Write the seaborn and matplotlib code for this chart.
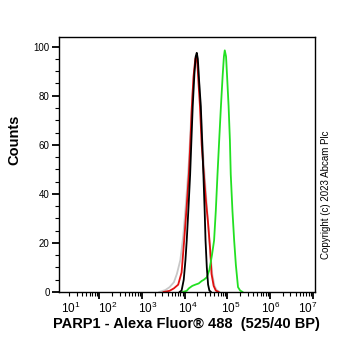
import numpy as np
import pandas as pd
import matplotlib
matplotlib.use("Agg")
import matplotlib.pyplot as plt
import seaborn as sns
from matplotlib.ticker import LogLocator, MultipleLocator, FixedLocator, NullFormatter

# histogram traces: log10(intensity), counts (% of max)
gray_log = [3.40, 3.55, 3.65, 3.75, 3.82, 3.90, 3.97, 4.04, 4.10, 4.15, 4.20, 4.25, 4.28,
            4.32, 4.36, 4.40, 4.45, 4.50, 4.55, 4.60, 4.65, 4.70, 4.75, 4.82]
gray_cnt = [0, 0.8, 2, 4, 7.4, 13, 23, 38, 53, 70, 85, 94, 95,
            90, 80, 66, 52, 40, 28, 16, 7, 2.5, 0.8, 0]

red_log = [3.50, 3.65, 3.75, 3.85, 3.93, 3.99, 4.05, 4.10, 4.14, 4.17, 4.21, 4.25, 4.27,
           4.30, 4.33, 4.36, 4.40, 4.45, 4.50, 4.55, 4.60, 4.63, 4.68, 4.73, 4.80]
red_cnt = [0, 0.5, 1.5, 3, 8, 21, 35, 48, 63, 75.6, 88, 95, 96,
           93, 84, 75.6, 60, 48, 37, 28, 17, 7.4, 2.5, 0.6, 0]

green_log = [3.95, 4.05, 4.10, 4.18, 4.25, 4.33, 4.40, 4.45, 4.52, 4.58, 4.64, 4.69, 4.73,
             4.77, 4.81, 4.85, 4.89, 4.92, 4.94, 4.97, 5.00, 5.03, 5.06, 5.08, 5.12,
             5.16, 5.20, 5.25, 5.30, 5.36]
green_cnt = [0, 0.5, 1.5, 2.5, 3, 3.5, 4.5, 5, 6, 9, 15, 21, 33,
             48, 62, 75.6, 88, 96, 98.5, 96, 86, 75.6, 62, 48, 33,
             21, 11, 2, 0.6, 0]

black_log = [3.88, 3.93, 3.98, 4.02, 4.05, 4.09, 4.13, 4.16, 4.19, 4.23, 4.26, 4.285,
             4.31, 4.34, 4.38, 4.41, 4.44, 4.47, 4.49, 4.52, 4.55, 4.58, 4.62]
black_cnt = [0, 0.6, 5, 13, 21, 34, 48, 62, 75.6, 89, 96, 97.5,
             95, 86, 75.6, 62, 48, 33, 21, 10, 3, 0.6, 0]

traces = [
    ("gray", gray_log, gray_cnt, "#c8c8c8"),
    ("red", red_log, red_cnt, "#e01010"),
    ("green", green_log, green_cnt, "#22e022"),
    ("black", black_log, black_cnt, "#000000"),
]

decades = [1, 2, 3, 4, 5, 6, 7]
# the decade labels in the picture sit a little off their ticks (pixel x of each label)
decade_label_px = [71, 107.5, 148, 188, 231, 270.5, 308]

sns.set_style("ticks")
plt.rcParams["font.family"] = ["Liberation Sans", "DejaVu Sans"]
plt.rcParams["mathtext.fontset"] = "custom"
plt.rcParams["mathtext.rm"] = "Liberation Sans"
plt.rcParams["mathtext.it"] = "Liberation Sans"
plt.rcParams["text.color"] = "black"
plt.rcParams["xtick.color"] = "black"
plt.rcParams["ytick.color"] = "black"
plt.rcParams["xtick.labelcolor"] = "black"
plt.rcParams["ytick.labelcolor"] = "black"

fig = plt.figure(figsize=(3.62, 3.51), dpi=100)
ax = fig.add_axes([0.164, 0.168, 0.706, 0.727])

for name, xs, ys, col in traces:
    df = pd.DataFrame({"x": 10 ** np.array(xs), "y": ys})
    sns.lineplot(data=df, x="x", y="y", color=col, linewidth=1.3, ax=ax, sort=False)

ax.set_xscale("log")
ax.set_xlim(10 ** 1.07, 10 ** 7.05)
ax.set_ylim(0, 104)

ax.xaxis.set_major_locator(FixedLocator([10.0 ** k for k in decades]))
ax.xaxis.set_minor_locator(LogLocator(base=10, subs=np.arange(2, 10), numticks=20))
ax.xaxis.set_major_formatter(NullFormatter())
ax.xaxis.set_minor_formatter(NullFormatter())
ax.yaxis.set_major_locator(MultipleLocator(20))
ax.yaxis.set_minor_locator(MultipleLocator(5))

ax.tick_params(axis="both", which="major", direction="out", length=5, width=1.3,
               labelsize=7, color="black", labelcolor="black", pad=2)
ax.tick_params(axis="both", which="minor", direction="out", length=3, width=0.8, color="black")

for k, px in zip(decades, decade_label_px):
    fig.text(px / 362, 1 - 308 / 351, "$10^{%d}$" % k, fontsize=8.5, ha="center", va="center",
             color="black")

for s in ax.spines.values():
    s.set_visible(True)
    s.set_linewidth(1.0)
    s.set_color("black")

ax.set_xlabel("")
ax.set_ylabel("")
fig.text(14 / 362, 1 - 140 / 351, "Counts", rotation=90, fontsize=10.5, fontweight="bold",
         ha="center", va="center", color="black")
fig.text(186 / 362, 1 - 324 / 351, "PARP1 - Alexa Fluor\u00ae 488  (525/40 BP)",
         fontsize=10.5, fontweight="bold", ha="center", va="center", color="black")
fig.text(326 / 362, 1 - 195 / 351, "Copyright (c) 2023 Abcam Plc", rotation=90,
         fontsize=7, ha="center", va="center", color="black")

fig.savefig("out.png", dpi=100)
